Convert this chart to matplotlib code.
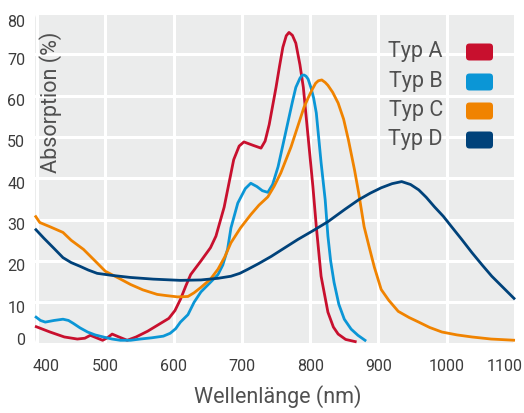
import matplotlib
matplotlib.use('Agg')
import matplotlib.pyplot as plt
from matplotlib.patches import FancyBboxPatch
from matplotlib.transforms import ScaledTranslation

plt.rcParams['font.family'] = ['Roboto', 'DejaVu Sans']

# wavelength (nm) / absorption (%)
typ_a_x = [397, 419, 440, 459, 470, 478, 487, 496, 503, 510, 520, 532, 545, 562, 580,
           593, 602, 610, 618, 625, 640, 654, 662, 674, 688, 696, 703, 716, 728, 734,
           740, 745, 750, 755, 760, 765, 769, 774, 779, 785, 790, 797, 804, 809, 816,
           826, 834, 841, 852, 868]
typ_a_y = [4.2, 2.8, 1.6, 1.1, 1.3, 2.0, 1.4, 0.8, 1.4, 2.3, 1.6, 0.8, 1.6, 3.0, 4.8,
           6.1, 8.0, 10.7, 14.0, 16.7, 20.0, 23.2, 26.0, 33.0, 44.5, 47.8, 48.8, 48.0, 47.3, 49.0,
           53.0, 57.5, 62.0, 67.0, 71.7, 74.5, 75.3, 74.6, 72.7, 67.5, 62.0, 50.0, 38.0, 28.3, 16.3,
           7.6, 4.0, 2.3, 1.0, 0.4]

typ_b_x = [397, 405, 412, 425, 438, 446, 453, 463, 474, 485, 497, 510, 522, 537, 551,
           568, 585, 595, 603, 610, 621, 630, 640, 652, 665, 672, 679, 684, 694, 705,
           713, 722, 730, 738, 745, 753, 760, 768, 774, 779, 785, 788, 791, 794, 797,
           801, 805, 809, 816, 822, 826, 830, 835, 842, 850, 860, 870, 882]
typ_b_y = [6.6, 5.6, 5.2, 5.6, 5.9, 5.6, 4.9, 3.8, 2.8, 2.1, 1.6, 1.1, 0.8, 0.8, 1.1,
           1.4, 1.8, 2.5, 3.6, 5.2, 7.0, 10.0, 12.5, 14.5, 16.7, 19.0, 22.8, 28.0, 34.0, 37.5,
           38.8, 38.0, 37.0, 36.6, 38.5, 42.8, 48.0, 54.0, 58.5, 62.0, 64.2, 64.9, 65.0, 64.7, 64.0,
           62.0, 59.5, 55.8, 43.8, 34.8, 26.0, 20.0, 14.8, 9.5, 5.9, 3.5, 2.0, 0.6]

typ_c_x = [397, 404, 420, 438, 450, 468, 485, 500, 520, 537, 555, 576, 590, 606, 621,
           630, 640, 654, 665, 675, 684, 698, 713, 725, 738, 747, 757, 772, 791, 798,
           803, 808, 812, 817, 822, 826, 833, 841, 849, 856, 865, 871, 879, 887, 894,
           904, 915, 929, 945, 959, 975, 993, 1015, 1037, 1065, 1100]
typ_c_y = [31.0, 29.3, 28.2, 26.9, 25.0, 22.8, 20.0, 17.5, 15.8, 14.3, 13.0, 11.9, 11.6, 11.3, 11.4,
           12.3, 13.6, 15.6, 18.0, 21.0, 24.4, 28.0, 31.2, 33.5, 35.5, 38.0, 41.3, 47.6, 57.2, 59.8,
           61.5, 63.0, 63.6, 63.8, 63.2, 62.5, 60.8, 58.2, 54.3, 49.3, 42.0, 36.5, 28.3, 23.0, 18.5,
           13.1, 10.5, 7.8, 6.3, 5.2, 3.9, 2.8, 2.1, 1.6, 1.1, 0.8]

typ_d_x = [397, 410, 425, 438, 450, 463, 475, 488, 510, 537, 570, 610, 640, 665, 684,
           697, 709, 725, 743, 762, 782, 805, 826, 851, 871, 888, 904, 920, 934, 947,
           959, 970, 982, 995, 1007, 1022, 1037, 1052, 1066, 1083, 1100]
typ_d_y = [27.8, 25.5, 23.0, 20.8, 19.6, 18.7, 17.8, 17.0, 16.5, 16.0, 15.6, 15.3, 15.4, 15.8, 16.3,
           17.0, 18.0, 19.4, 21.1, 23.1, 25.2, 27.4, 29.5, 32.5, 34.8, 36.4, 37.7, 38.7, 39.2, 38.5,
           37.2, 35.4, 33.1, 30.8, 28.3, 25.2, 22.0, 19.0, 16.3, 13.5, 10.7]

series_names = ['Typ A', 'Typ B', 'Typ C', 'Typ D']
series_colors = ['#c8102e', '#0b96d6', '#f08300', '#00427a']
x_ticks = [400, 500, 600, 700, 800, 900, 1000, 1100]
y_ticks = [0, 10, 20, 30, 40, 50, 60, 70, 80]

text_color = '#3c3c3c'
label_color = '#505050'

fig = plt.figure(figsize=(5.24, 4.13), dpi=100)
ax = fig.add_axes([35 / 524, 69 / 413, 480 / 524, 331 / 413])

# rounded grey plot background
bg = FancyBboxPatch((0.35, 0.69), 4.80, 3.31, boxstyle='round,pad=0,rounding_size=0.06',
                    transform=fig.dpi_scale_trans, fc='#ebecec', ec='none', zorder=-1)
fig.add_artist(bg)
ax.patch.set_visible(False)

all_x = [typ_a_x, typ_b_x, typ_c_x, typ_d_x]
all_y = [typ_a_y, typ_b_y, typ_c_y, typ_d_y]
for xs, ys, c in zip(all_x, all_y, series_colors):
    ax.plot(xs, ys, color=c, lw=2.0, solid_joinstyle='round', solid_capstyle='butt', zorder=3,
            clip_on=False)

ax.set_xlim(397, 1100)
ax.set_ylim(-0.1, 79.6)
ax.set_xticks(x_ticks)
ax.set_yticks(y_ticks)
ax.grid(True, color='white', lw=2.2)
ax.set_axisbelow(True)
for s in ax.spines.values():
    s.set_visible(False)
ax.tick_params(length=0, labelsize=11.5, labelcolor=text_color)
ax.tick_params(axis='x', pad=11)
ax.tick_params(axis='y', pad=7)

# nudge edge labels inside like the reference
for lab, v in zip(ax.get_xticklabels(), x_ticks):
    dx = 0
    if v == 400:
        dx = 9
    elif v == 1100:
        dx = -10
    lab.set_transform(lab.get_transform() + ScaledTranslation(dx / 100, 0, fig.dpi_scale_trans))
for lab, v in zip(ax.get_yticklabels(), y_ticks):
    dy = -4.5
    if v == 0:
        dy = 5
    elif v == 80:
        dy = -8
    lab.set_transform(lab.get_transform() + ScaledTranslation(0, dy / 100, fig.dpi_scale_trans))

ax.text(0.032, 0.73, 'Absorption (%)', transform=ax.transAxes, rotation=90,
        ha='center', va='center', fontsize=15.5, color=label_color)
fig.text(278 / 524, 1 - 397 / 413, 'Wellenlänge (nm)', ha='center', va='center',
         fontsize=15.5, color=label_color)

# legend: labels and rounded colour boxes
rows_py = [52, 82, 111, 140]
for name, c, py in zip(series_names, series_colors, rows_py):
    fig.text(443 / 524, 1 - py / 413, name, ha='right', va='center', fontsize=15.5,
             color=label_color)
    box = FancyBboxPatch((4.66, (413 - py) / 100 - 0.085), 0.27, 0.17,
                         boxstyle='round,pad=0,rounding_size=0.035',
                         transform=fig.dpi_scale_trans, fc=c, ec='none', zorder=5)
    fig.add_artist(box)

fig.savefig('out.png', dpi=100)
